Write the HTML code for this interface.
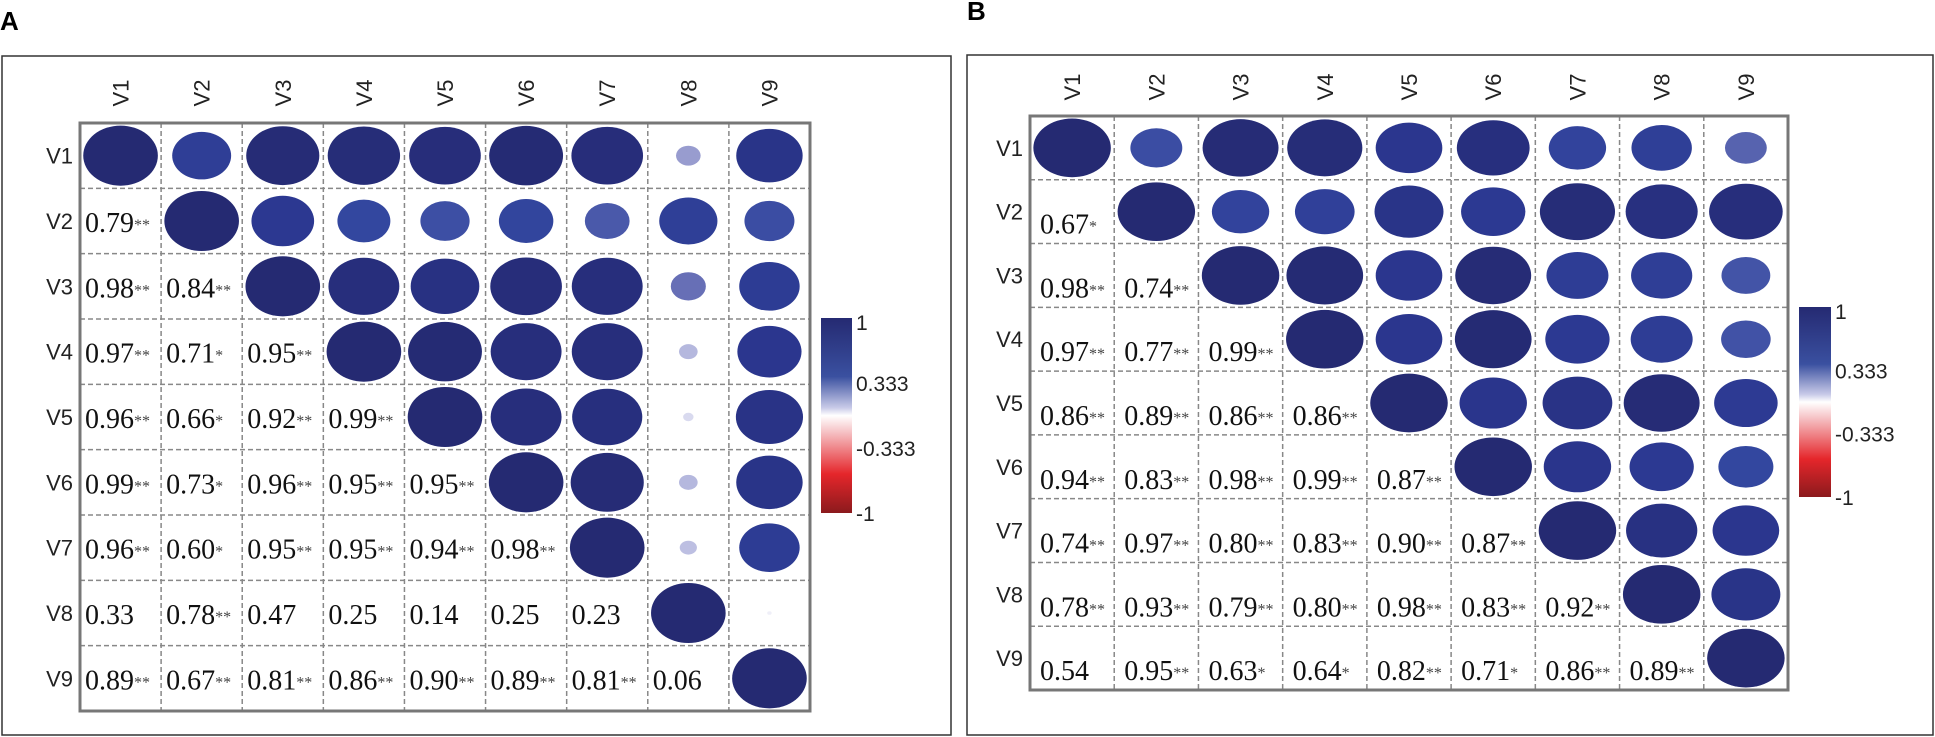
<!DOCTYPE html>
<html><head><meta charset="utf-8"><style>
html,body{margin:0;padding:0;background:#fff;}
svg{display:block;}
</style></head><body>
<svg id="chart" width="1935" height="737" xmlns="http://www.w3.org/2000/svg">
<defs>
<linearGradient id="cbar" x1="0" y1="0" x2="0" y2="1">
<stop offset="0" stop-color="#252a72"/>
<stop offset="0.3" stop-color="#3a50a0"/>
<stop offset="0.46" stop-color="#c8cae8"/>
<stop offset="0.5" stop-color="#ffffff"/>
<stop offset="0.58" stop-color="#f6c5c8"/>
<stop offset="0.8" stop-color="#e5262b"/>
<stop offset="1" stop-color="#8b1a1d"/>
</linearGradient>
</defs>
</svg>
<script>
const labels = ["V1","V2","V3","V4","V5","V6","V7","V8","V9"];
const valuesA = [
 [],
 [0.79],
 [0.98,0.84],
 [0.97,0.71,0.95],
 [0.96,0.66,0.92,0.99],
 [0.99,0.73,0.96,0.95,0.95],
 [0.96,0.60,0.95,0.95,0.94,0.98],
 [0.33,0.78,0.47,0.25,0.14,0.25,0.23],
 [0.89,0.67,0.81,0.86,0.90,0.89,0.81,0.06]
];
const starsA = [
 [],
 ["**"],
 ["**","**"],
 ["**","*","**"],
 ["**","*","**","**"],
 ["**","*","**","**","**"],
 ["**","*","**","**","**","**"],
 ["","**","","","","",""],
 ["**","**","**","**","**","**","**",""]
];
const valuesB = [
 [],
 [0.67],
 [0.98,0.74],
 [0.97,0.77,0.99],
 [0.86,0.89,0.86,0.86],
 [0.94,0.83,0.98,0.99,0.87],
 [0.74,0.97,0.80,0.83,0.90,0.87],
 [0.78,0.93,0.79,0.80,0.98,0.83,0.92],
 [0.54,0.95,0.63,0.64,0.82,0.71,0.86,0.89]
];
const starsB = [
 [],
 ["*"],
 ["**","**"],
 ["**","**","**"],
 ["**","**","**","**"],
 ["**","**","**","**","**"],
 ["**","**","**","**","**","**"],
 ["**","**","**","**","**","**","**"],
 ["","**","*","*","**","*","**","**"]
];
const colorTicks = ["1","0.333","-0.333","-1"];

const NS="http://www.w3.org/2000/svg";
const svg=document.getElementById('chart');
function mk(tag,attrs,parent){const e=document.createElementNS(NS,tag);for(const k in attrs)e.setAttribute(k,attrs[k]);(parent||svg).appendChild(e);return e;}
function lerp(a,b,t){return a+(b-a)*t;}
function hex(c){return [parseInt(c.slice(1,3),16),parseInt(c.slice(3,5),16),parseInt(c.slice(5,7),16)];}
const stops=[[0,"#ffffff"],[0.2,"#c8cae8"],[0.45,"#6b72b8"],[0.7,"#3448a0"],[0.85,"#2b3790"],[1,"#252a72"]];
function color(r){const a=Math.abs(r);for(let i=1;i<stops.length;i++){if(a<=stops[i][0]){const t=(a-stops[i-1][0])/(stops[i][0]-stops[i-1][0]);const c1=hex(stops[i-1][1]),c2=hex(stops[i][1]);return `rgb(${Math.round(lerp(c1[0],c2[0],t))},${Math.round(lerp(c1[1],c2[1],t))},${Math.round(lerp(c1[2],c2[2],t))})`;}}return "#252a72";}
function val(m,i,j){if(i===j)return 1;return i>j?m[i][j]:m[j][i];}

function panel(cfg){
 const g=mk('g',{});
 
 
 const box=mk('rect',{x:cfg.box[0],y:cfg.box[1],width:cfg.box[2],height:cfg.box[3],fill:'none',stroke:'#333','stroke-width':1.5},g);
 
 
 const letter=mk('text',{x:cfg.letter[0],y:cfg.letter[1],'font-family':'Liberation Sans, sans-serif','font-weight':'bold','font-size':26,fill:'#000'},g);
 letter.textContent=cfg.title;
 
 
 const n=labels.length, cw=cfg.gw/n, ch=cfg.gh/n, x0=cfg.gx, y0=cfg.gy;
 const xs=i=>x0+i*cw, ys=i=>y0+i*ch;
 for(let i=1;i<n;i++){
  const vl=mk('line',{x1:xs(i),y1:y0,x2:xs(i),y2:y0+cfg.gh,stroke:'#888','stroke-width':1.5,'stroke-dasharray':'5,3'},g);
  
  
  const hl=mk('line',{x1:x0,y1:ys(i),x2:x0+cfg.gw,y2:ys(i),stroke:'#888','stroke-width':1.5,'stroke-dasharray':'5,3'},g);
  
  
 }
 for(let i=0;i<n;i++){
  const rl=mk('text',{x:x0-7,y:ys(i)+ch/2+8,'text-anchor':'end','font-family':'Liberation Sans, DejaVu Sans, sans-serif','font-size':22,fill:'#222'},g);
  rl.textContent=labels[i];
  
  
  const cx=xs(i)+cw/2;
  const cl=mk('text',{x:0,y:0,transform:`translate(${cx+8},${cfg.colLabelY}) rotate(-90)`,'text-anchor':'middle','font-family':'Liberation Sans, DejaVu Sans, sans-serif','font-size':22,fill:'#222'},g);
  cl.textContent=labels[i];
  
  
 }
 for(let i=0;i<n;i++){
  for(let j=0;j<n;j++){
   const r=val(cfg.values,i,j);
   if(j>=i){
    const s=Math.abs(r);
    const e=mk('ellipse',{cx:xs(j)+cw/2,cy:ys(i)+ch/2,rx:Math.max(cw*0.46*s,2),ry:Math.max(ch*0.46*s,1.5),fill:color(r)},g);
    
    
   } else {
    const t=mk('text',{x:xs(j)+cfg.tx,y:ys(i)+ch/2+cfg.ty,'font-family':'Liberation Serif, serif','font-size':28,fill:'#111'},g);
    t.textContent=r.toFixed(2);
    const sp=mk('tspan',{'font-size':16,fill:'#444',dy:-2},t);
    sp.textContent=cfg.stars[i][j];
    
    
   }
  }
 }
 const fr=mk('rect',{x:x0,y:y0,width:cfg.gw,height:cfg.gh,fill:'none',stroke:'#777','stroke-width':3},g);
 
 
 const cb=mk('rect',{x:cfg.cb[0],y:cfg.cb[1],width:cfg.cb[2],height:cfg.cb[3],fill:'url(#cbar)'},g);
 
 
 for(let k=0;k<colorTicks.length;k++){
  const ty=cfg.cb[1]+cfg.cb[3]*k/(colorTicks.length-1);
  const tl=mk('text',{x:cfg.cb[0]+cfg.cb[2]+4,y:ty+(k===0?12:8),'font-family':'Liberation Sans, DejaVu Sans, sans-serif','font-size':21,fill:'#222'},g);
  tl.textContent=colorTicks[k];
  
  
 }
}
panel({name:'panel-a',title:'A',box:[2,56,949,679],letter:[0,30],gx:80,gy:123,gw:730,gh:588,colLabelY:93,values:valuesA,stars:starsA,tx:5,ty:11,cb:[821,318,31,195]});
panel({name:'panel-b',title:'B',box:[967,55,966,680],letter:[967,20],gx:1030,gy:116,gw:758,gh:574,colLabelY:87,values:valuesB,stars:starsB,tx:10,ty:22,cb:[1799,307,32,190]});
</script>
</body></html>
